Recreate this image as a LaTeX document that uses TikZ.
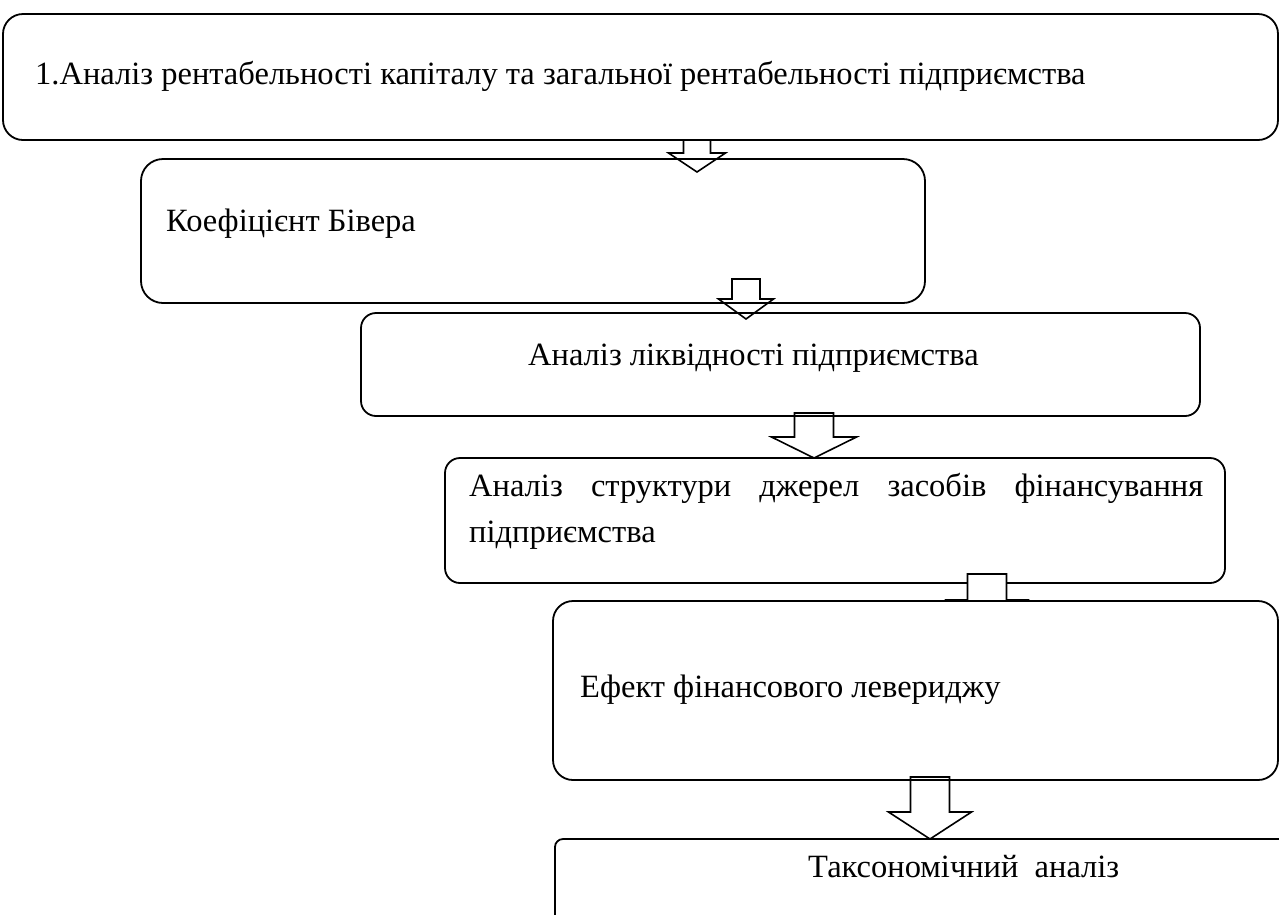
\documentclass[tikz,border=0pt]{standalone}
\usepackage{fontspec}
\setmainfont{Liberation Serif}
\tikzset{
  box/.style={draw=black, line width=1.8pt, inner sep=0pt, outer sep=0pt},
  arr/.style={draw=black, line width=1.6pt, line join=miter},
  lbl/.style={anchor=base west, inner sep=0pt, font=\fontsize{32.5}{46}\selectfont},
}
\newcommand\blockarr[7]{% cx, top, base, tip, halfshaft, halfhead, fill
  \draw[arr, fill=#7] (#1-#5,#2) -- (#1+#5,#2) -- (#1+#5,#3) -- (#1+#6,#3) -- (#1,#4) -- (#1-#6,#3) -- (#1-#5,#3) -- cycle;}
\begin{document}
\begin{tikzpicture}[x=1pt,y=-1pt]
\useasboundingbox (0,0) rectangle (1279,914);
\clip (0,0) rectangle (1279,914);
% boxes 1-4
\node[box, rounded corners=20pt, minimum width=1275pt, minimum height=126pt] (b1) at (640.5,77) {};
\node[box, rounded corners=22pt, minimum width=784pt, minimum height=144pt] (b2) at (533,231) {};
\node[box, rounded corners=15pt, minimum width=839pt, minimum height=103pt] (b3) at (780.5,364.5) {};
\node[box, rounded corners=15pt, minimum width=780pt, minimum height=125pt] (b4) at (835,520.5) {};
% arrows
\blockarr{697}{140}{153}{172}{13.5}{28.5}{none}
\blockarr{746}{279}{299}{319}{14}{27.5}{none}
\blockarr{814}{413}{437}{458}{19.5}{42.5}{none}
\blockarr{987}{574}{600}{626}{19.5}{40}{white}
% box 5 (opaque)
\node[box, fill=white, rounded corners=20pt, minimum width=725pt, minimum height=179pt] (b5) at (915.5,690.5) {};
\blockarr{930}{777}{812}{839}{19.5}{41.5}{none}
\node[box, rounded corners=8pt, minimum width=745pt, minimum height=121pt] (b6) at (927.5,899.5) {};
% texts
\node[lbl] (t1) at (35,84) {1.Аналіз рентабельності капіталу та загальної рентабельності підприємства};
\node[lbl] (t2) at (166,231) {Коефіцієнт Бівера};
\node[lbl] (t3) at (528,365) {Аналіз ліквідності підприємства};
\node[lbl, align=left] (t4) at (469,542) {\makebox[734pt][s]{Аналіз структури джерел засобів фінансування}\\підприємства};
\node[lbl] (t5) at (580,697) {Ефект фінансового левериджу};
\node[lbl] (t6) at (808,877) {Таксономічний\ \ аналіз};
\end{tikzpicture}
\end{document}
